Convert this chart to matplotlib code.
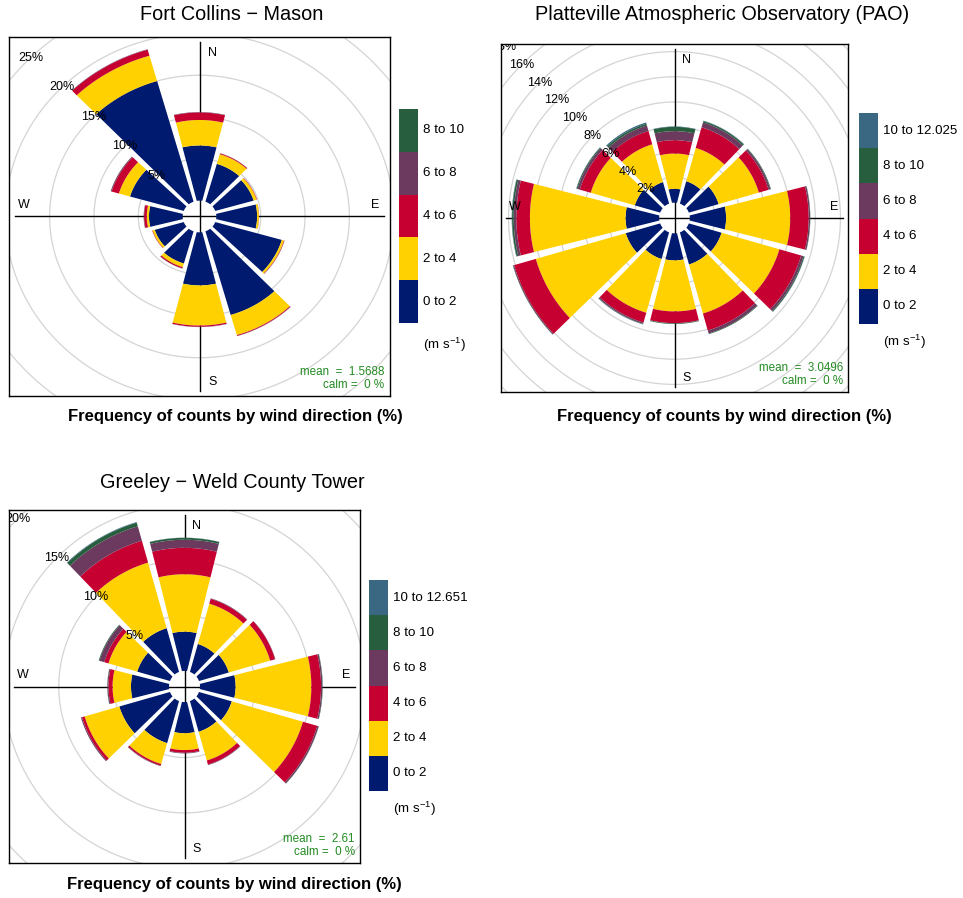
import matplotlib.pyplot as plt
import numpy as np

plt.rcParams['font.family'] = ['Liberation Sans', 'DejaVu Sans']
plt.rcParams['mathtext.fontset'] = 'custom'
plt.rcParams['mathtext.rm'] = 'Liberation Sans'
plt.rcParams['mathtext.it'] = 'Liberation Sans:italic'

W, H = 963, 898

directions = [0, 30, 60, 90, 120, 150, 180, 210, 240, 270, 300, 330]
speed_cols = ['#001A70', '#FFD100', '#C60030', '#6B3A5E', '#275E3D', '#3A6883']

# Fort Collins - Mason (% of counts, one row per speed bin, 12 directions)
fc_title = 'Fort Collins \u2212 Mason'
fc_bins = ['0 to 2', '2 to 4', '4 to 6', '6 to 8', '8 to 10']
fc_freq = [
    [6.6, 4.7, 4.5, 4.6, 7.8, 10.4, 6.35, 4.0, 3.4, 3.8, 6.3, 15.0],
    [3.05, 1.2, 0.35, 0.2, 0.25, 2.5, 4.8, 0.45, 0.25, 0.25, 1.3, 3.15],
    [0.9, 0.1, 0.05, 0.02, 0.05, 0.1, 0.15, 0.15, 0.05, 0.3, 0.85, 0.75],
    [0.05, 0.02, 0.0, 0.0, 0.02, 0.03, 0.03, 0.03, 0.0, 0.05, 0.1, 0.05],
    [0.0, 0.0, 0.0, 0.0, 0.0, 0.0, 0.0, 0.0, 0.0, 0.0, 0.01, 0.0],
]
fc_grid = 5
fc_mean = '1.5688'

# Platteville Atmospheric Observatory
pao_title = 'Platteville Atmospheric Observatory (PAO)'
pao_bins = ['0 to 2', '2 to 4', '4 to 6', '6 to 8', '8 to 10', '10 to 12.025']
pao_freq = [
    [1.1, 1.85, 2.47, 2.89, 2.71, 2.65, 2.15, 2.2, 2.85, 2.68, 2.1, 1.78],
    [2.8, 2.75, 3.33, 5.11, 4.79, 4.05, 4.05, 4.44, 7.45, 7.62, 3.65, 3.12],
    [1.06, 1.7, 0.8, 1.47, 1.8, 1.4, 0.93, 0.81, 1.8, 1.08, 0.9, 1.1],
    [0.72, 0.4, 0.15, 0.11, 0.2, 0.25, 0.02, 0.1, 0.08, 0.21, 0.2, 0.45],
    [0.34, 0.12, 0.05, 0.02, 0.08, 0.05, 0.05, 0.03, 0.02, 0.13, 0.08, 0.15],
    [0.03, 0.03, 0.0, 0.0, 0.02, 0.0, 0.0, 0.02, 0.0, 0.03, 0.02, 0.1],
]
pao_grid = 2
pao_mean = '3.0496'

# Greeley - Weld County Tower
gr_title = 'Greeley \u2212 Weld County Tower'
gr_bins = ['0 to 2', '2 to 4', '4 to 6', '6 to 8', '8 to 10', '10 to 12.651']
gr_freq = [
    [3.54, 2.62, 2.81, 3.23, 3.09, 2.88, 2.81, 3.94, 4.78, 3.45, 3.09, 4.1],
    [5.18, 3.78, 3.9, 6.87, 6.71, 2.69, 1.52, 1.96, 3.27, 1.67, 2.71, 6.15],
    [2.38, 0.45, 0.46, 0.88, 1.35, 0.38, 0.24, 0.15, 0.25, 0.37, 0.4, 2.05],
    [0.73, 0.05, 0.03, 0.12, 0.13, 0.05, 0.06, 0.05, 0.1, 0.09, 0.45, 1.35],
    [0.17, 0.0, 0.0, 0.03, 0.02, 0.0, 0.0, 0.0, 0.0, 0.02, 0.07, 0.35],
    [0.02, 0.0, 0.0, 0.0, 0.0, 0.0, 0.0, 0.0, 0.0, 0.0, 0.0, 0.05],
]
gr_grid = 5
gr_mean = '2.61'


def rect(x0, y0, x1, y1):
    return [x0 / W, 1 - y1 / H, (x1 - x0) / W, (y1 - y0) / H]


def sector(wd, r1, r2, d):
    pts = []
    for r, sgn in ((r2, 1), (r1, -1)):
        a = np.radians(15 - 0.9) - np.arcsin(min(d / r, 0.9))
        th = np.radians(wd) + sgn * np.linspace(-a, a, 40)
        pts.append(np.column_stack([r * np.sin(th), r * np.cos(th)]))
    return np.vstack(pts)


def draw_rose(ax, freq, step, mean):
    freq = np.array(freq)
    mx = np.cumsum(freq, axis=0)[-1].max()
    off = 0.1 * mx
    lim = 1.03 * (mx + off)
    ax.set_xlim(-lim, lim)
    ax.set_ylim(-lim, lim)
    ax.set_xticks([])
    ax.set_yticks([])
    for s in ax.spines.values():
        s.set_linewidth(1.0)

    t = np.linspace(0, 2 * np.pi, 400)
    a315 = np.radians(315)
    for k in range(1, 12):
        r = off + k * step
        ax.plot(r * np.sin(t), r * np.cos(t), color='#D4D4D4', lw=0.9, zorder=1)
        lx, ly = r * np.sin(a315), r * np.cos(a315)
        if abs(lx) < lim:
            ax.text(lx, ly, f'{k * step}%', ha='center', va='center',
                    fontsize=9, zorder=5, clip_on=True)

    R = mx + off
    ax.plot([-R, R], [0, 0], color='black', lw=1.0, zorder=2)
    ax.plot([0, 0], [-R, R], color='black', lw=1.0, zorder=2)

    d = 0.0072 * lim
    for j, wd in enumerate(directions):
        inner = off
        for i in range(len(freq)):
            v = freq[i][j]
            if v <= 0:
                continue
            p = sector(wd, inner, inner + v, d)
            ax.fill(p[:, 0], p[:, 1], color=speed_cols[i], lw=0, zorder=3)
            inner += v

    ax.text(0.07 * lim, 0.91 * lim, 'N', ha='center', va='center', fontsize=9)
    ax.text(0.07 * lim, -0.92 * lim, 'S', ha='center', va='center', fontsize=9)
    ax.text(0.92 * lim, 0.065 * lim, 'E', ha='center', va='center', fontsize=9)
    ax.text(-0.92 * lim, 0.065 * lim, 'W', ha='center', va='center', fontsize=9)

    ax.text(R, -R, 'calm =  0 %', ha='right', va='bottom', color='forestgreen', fontsize=8.4)
    ax.annotate(f'mean  =  {mean}', xy=(R, -R), xytext=(0, 9.5), textcoords='offset points',
                ha='right', va='bottom', color='forestgreen', fontsize=8.4)


def draw_key(ax, bins):
    n = len(bins)
    ax.bar([0.5] * n, [1] * n, bottom=np.arange(n), width=1, color=speed_cols[:n])
    ax.set_xlim(0, 1)
    ax.set_ylim(0, n)
    ax.axis('off')
    for i, b in enumerate(bins):
        ax.text(1.25, i + 0.5, b, ha='left', va='center', fontsize=9.6)
    ax.text(1.25, -0.5, r'(m s$^{-1}$)', ha='left', va='center', fontsize=9.6)


fig = plt.figure(figsize=(W / 100, H / 100), dpi=100)

panels = [
    (fc_title, fc_freq, fc_bins, fc_grid, fc_mean,
     (9, 37, 390, 396), (399, 109, 418, 323), (232, 15), (235, 417)),
    (pao_title, pao_freq, pao_bins, pao_grid, pao_mean,
     (501, 44, 848, 392), (859, 113, 878, 324), (722, 15), (724, 417)),
    (gr_title, gr_freq, gr_bins, gr_grid, gr_mean,
     (9, 510, 360, 863), (369, 580, 388, 791), (232, 482), (234, 884)),
]

for title, freq, bins, step, mean, box, key, tpos, lpos in panels:
    ax = fig.add_axes(rect(*box))
    draw_rose(ax, freq, step, mean)
    kax = fig.add_axes(rect(*key))
    draw_key(kax, bins)
    fig.text(tpos[0] / W, 1 - tpos[1] / H, title, ha='center', va='center', fontsize=14.3)
    fig.text(lpos[0] / W, 1 - lpos[1] / H, 'Frequency of counts by wind direction (%)',
             ha='center', va='center', fontsize=12, fontweight='bold')

fig.savefig('out.png', dpi=100)
